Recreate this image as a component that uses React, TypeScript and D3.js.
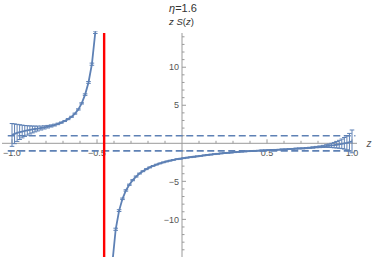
import React from "react";
import * as d3 from "d3";

// ---- data ----
const zLeft = [-1.0, -0.985, -0.97, -0.955, -0.94, -0.925, -0.91, -0.895, -0.88, -0.865, -0.85, -0.83, -0.81, -0.79, -0.77, -0.75, -0.73, -0.71, -0.69, -0.67, -0.65, -0.63, -0.61, -0.59, -0.57, -0.55, -0.53, -0.51];
const sLeft = [1.1, 1.25, 1.37, 1.47, 1.55, 1.62, 1.69, 1.76, 1.82, 1.88, 1.94, 2.01, 2.09, 2.18, 2.28, 2.4, 2.55, 2.72, 2.93, 3.18, 3.48, 3.9, 4.45, 5.25, 6.4, 8.0, 10.4, 14.6];
const eLeft = [1.5, 1.3, 1.12, 0.97, 0.84, 0.72, 0.62, 0.53, 0.45, 0.38, 0.32, 0.26, 0.21, 0.17, 0.14, 0.12, 0.1, 0.08, 0.07, 0.07, 0.07, 0.07, 0.08, 0.08, 0.1, 0.12, 0.14, 0.16];

const zRight = [-0.41, -0.39, -0.37, -0.35, -0.33, -0.31, -0.29, -0.27, -0.25, -0.23, -0.21, -0.19, -0.17, -0.15, -0.13, -0.11, -0.09, -0.07, -0.05, -0.03, -0.01, 0.01, 0.03, 0.05, 0.07, 0.09, 0.11, 0.13, 0.15, 0.17, 0.19, 0.21, 0.23, 0.25, 0.27, 0.29, 0.31, 0.33, 0.35, 0.37, 0.39, 0.41, 0.43, 0.45, 0.47, 0.49, 0.51, 0.53, 0.55, 0.57, 0.59, 0.61, 0.63, 0.65, 0.67, 0.69, 0.71, 0.73, 0.75, 0.77, 0.79, 0.81, 0.83, 0.85, 0.865, 0.88, 0.895, 0.91, 0.925, 0.94, 0.955, 0.97, 0.985, 1.0];
const sRight = [-15.8, -11.3, -8.85, -7.3, -6.2, -5.45, -4.85, -4.37, -3.98, -3.67, -3.4, -3.17, -2.97, -2.8, -2.65, -2.51, -2.39, -2.28, -2.18, -2.09, -2.03, -1.96, -1.89, -1.83, -1.77, -1.71, -1.65, -1.59, -1.53, -1.48, -1.43, -1.38, -1.33, -1.29, -1.25, -1.21, -1.17, -1.13, -1.1, -1.07, -1.04, -1.02, -0.99, -0.97, -0.94, -0.92, -0.9, -0.88, -0.86, -0.84, -0.81, -0.79, -0.76, -0.73, -0.7, -0.68, -0.66, -0.63, -0.59, -0.55, -0.5, -0.46, -0.41, -0.36, -0.32, -0.28, -0.24, -0.19, -0.13, -0.07, 0.0, 0.07, 0.15, 0.25];
const eRight = [0.16, 0.14, 0.12, 0.1, 0.09, 0.08, 0.07, 0.07, 0.06, 0.06, 0.06, 0.06, 0.05, 0.05, 0.05, 0.05, 0.05, 0.05, 0.05, 0.05, 0.05, 0.05, 0.05, 0.05, 0.05, 0.05, 0.05, 0.05, 0.05, 0.05, 0.05, 0.05, 0.05, 0.05, 0.05, 0.05, 0.05, 0.05, 0.05, 0.05, 0.05, 0.05, 0.05, 0.05, 0.05, 0.05, 0.05, 0.05, 0.05, 0.05, 0.05, 0.05, 0.05, 0.05, 0.06, 0.06, 0.06, 0.07, 0.07, 0.08, 0.09, 0.11, 0.14, 0.18, 0.22, 0.28, 0.35, 0.43, 0.52, 0.63, 0.76, 0.92, 1.15, 1.5];

const refLevels = [1, -1];
const refZ = [-1.025, 1.02];
const poleZ = -0.458;

const xMajor = [-1.0, -0.5, 0.5, 1.0];
const xMajorLabels = ["\u22121.0", "\u22120.5", "0.5", "1.0"];
const xMinor = [-0.9, -0.8, -0.7, -0.6, -0.4, -0.3, -0.2, -0.1, 0.1, 0.2, 0.3, 0.4, 0.6, 0.7, 0.8, 0.9];
const yMajor = [10, 5, -5, -10];
const yMajorLabels = ["10", "5", "\u22125", "\u221210"];
const yMinor = [14, 13, 12, 11, 9, 8, 7, 6, 4, 3, 2, 1, -1, -2, -3, -4, -6, -7, -8, -9, -11, -12, -13, -14];

const W = 374;
const H = 257;
const BLUE = "#5E81B5";
const AXIS = "#9a9a9a";
const LABEL = "#555";

export default function App() {
  const x = d3.scaleLinear().domain([-1, 1]).range([12, 352]);
  const y = d3.scaleLinear().domain([-15, 14.5]).range([257.4, 33]);
  const line = d3
    .line<[number, number]>()
    .x((d) => x(d[0]))
    .y((d) => y(d[1]));

  const left = zLeft.map((z, i) => [z, sLeft[i], eLeft[i]] as [number, number, number]);
  const right = zRight.map((z, i) => [z, sRight[i], eRight[i]] as [number, number, number]);
  const x0 = x(0);
  const y0 = y(0);
  const cap = 2.3;

  const renderBars = (pts: [number, number, number][], key: string) =>
    pts.map((p, i) => {
      const px = x(p[0]);
      const yt = y(p[1] + p[2]);
      const yb = y(p[1] - p[2]);
      return (
        <g key={key + i}>
          <line x1={px} x2={px} y1={yt} y2={yb} stroke={BLUE} strokeWidth={1} />
          <line x1={px - cap} x2={px + cap} y1={yt} y2={yt} stroke={BLUE} strokeWidth={1} />
          <line x1={px - cap} x2={px + cap} y1={yb} y2={yb} stroke={BLUE} strokeWidth={1} />
        </g>
      );
    });

  return (
    <svg
      width={W}
      height={H}
      style={{ position: "absolute", left: 0, top: 0, background: "#fff" }}
      fontFamily="'Liberation Sans', Arial, sans-serif"
    >
      <defs>
        <clipPath id="plotClip">
          <rect x={0} y={31} width={W} height={H - 31} />
        </clipPath>
      </defs>

      {/* title */}
      <text x={183} y={12} textAnchor="middle" fontSize={11} fill="#333">
        <tspan fontStyle="italic">{"\u03b7"}</tspan>
        {"=1.6"}
      </text>
      <text x={181.5} y={25} textAnchor="middle" fontSize={9.5} fill="#333">
        <tspan fontStyle="italic">z</tspan> <tspan fontStyle="italic">S</tspan>(
        <tspan fontStyle="italic">z</tspan>)
      </text>

      {/* axes */}
      <line x1={2} x2={357} y1={y0} y2={y0} stroke={AXIS} strokeWidth={1} />
      <line x1={x0} x2={x0} y1={33} y2={H} stroke={AXIS} strokeWidth={1} />
      {xMajor.map((v) => (
        <line key={"xM" + v} x1={x(v)} x2={x(v)} y1={y0} y2={y0 - 4} stroke={AXIS} />
      ))}
      {xMinor.map((v) => (
        <line key={"xm" + v} x1={x(v)} x2={x(v)} y1={y0} y2={y0 - 2.5} stroke={AXIS} />
      ))}
      {yMajor.map((v) => (
        <line key={"yM" + v} x1={x0} x2={x0 + 4} y1={y(v)} y2={y(v)} stroke={AXIS} />
      ))}
      {yMinor.map((v) => (
        <line key={"ym" + v} x1={x0} x2={x0 + 2.5} y1={y(v)} y2={y(v)} stroke={AXIS} />
      ))}
      {xMajor.map((v, i) => (
        <text key={"xl" + v} x={x(v)} y={y0 + 13} textAnchor="middle" fontSize={9} fill={LABEL}>
          {xMajorLabels[i]}
        </text>
      ))}
      {yMajor.map((v, i) => (
        <text key={"yl" + v} x={x0 - 3} y={y(v) + 3.2} textAnchor="end" fontSize={9} fill={LABEL}>
          {yMajorLabels[i]}
        </text>
      ))}
      <text x={369} y={y0 + 3.5} textAnchor="middle" fontSize={10} fontStyle="italic" fill={LABEL}>
        z
      </text>

      {/* reference dashed lines */}
      {refLevels.map((v) => (
        <line
          key={"ref" + v}
          x1={x(refZ[0])}
          x2={x(refZ[1])}
          y1={y(v)}
          y2={y(v)}
          stroke={BLUE}
          strokeWidth={1.6}
          strokeDasharray="7,3.5"
        />
      ))}

      {/* data */}
      <g clipPath="url(#plotClip)">
        <path d={line(left.map((p) => [p[0], p[1]]))!} fill="none" stroke={BLUE} strokeWidth={1.8} />
        <path d={line(right.map((p) => [p[0], p[1]]))!} fill="none" stroke={BLUE} strokeWidth={1.8} />
        {renderBars(left, "L")}
        {renderBars(right, "R")}
      </g>

      {/* pole */}
      <line x1={x(poleZ)} x2={x(poleZ)} y1={33} y2={H} stroke="#ff0000" strokeWidth={2.4} />
    </svg>
  );
}
